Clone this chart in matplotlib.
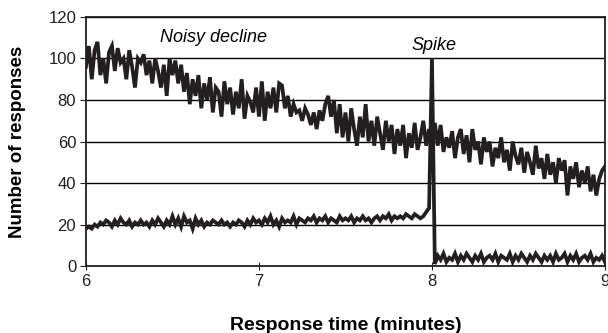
import numpy as np
import matplotlib.pyplot as plt

# samples taken once a second, times in minutes
start_min = 6.0
step_min = 1 / 60

decline = [
    96, 106, 90, 104, 108, 92, 100, 88, 103, 106,
    94, 105, 98, 100, 90, 104, 96, 86, 100, 98,
    102, 92, 99, 88, 100, 94, 86, 97, 82, 100,
    92, 99, 88, 97, 84, 93, 78, 90, 82, 92,
    76, 88, 80, 91, 74, 86, 84, 72, 89, 78,
    86, 73, 84, 76, 90, 71, 82, 79, 74, 86,
    72, 89, 70, 84, 76, 86, 74, 88, 87, 76,
    82, 72, 78, 74, 75, 70, 76, 73, 68, 74,
    66, 75, 70, 78, 82, 72, 80, 64, 78, 62,
    74, 60, 76, 66, 58, 72, 62, 78, 60, 70,
    58, 72, 64, 56, 70, 60, 68, 54, 66, 58,
    68, 52, 64, 57, 69, 56, 62, 70, 58, 66,
    56, 69, 58, 68, 55, 62, 57, 65, 52, 62,
    66, 54, 63, 50, 66, 56, 60, 49, 62, 55,
    60, 48, 57, 52, 62, 50, 56, 46, 60, 53,
    49, 57, 45, 55, 50, 44, 58, 47, 52, 42,
    54, 44, 50, 40, 52, 46, 51, 34, 48, 42,
    50, 38, 46, 40, 48, 36, 44, 34, 42, 46,
    48,
]

spike = [
    18, 19, 18, 20, 19, 21, 20, 22, 21, 19,
    22, 20, 23, 21, 20, 22, 19, 21, 20, 22,
    20, 21, 19, 22, 20, 23, 21, 19, 22, 20,
    24, 20, 23, 19, 24, 21, 22, 18, 23, 20,
    22, 19, 21, 20, 22, 21, 20, 22, 20, 21,
    19, 21, 20, 22, 21, 19, 22, 20, 23, 21,
    22, 20, 23, 21, 24, 20, 22, 19, 23, 21,
    22, 21, 24, 20, 23, 22, 21, 23, 22, 24,
    21, 23, 22, 24, 21, 23, 22, 21, 24, 22,
    23, 22, 24, 21, 23, 22, 24, 22, 23, 21,
    23, 24, 22, 24, 23, 25, 22, 24, 23, 24,
    23, 25, 24, 23, 25, 24, 23, 24, 26, 28,
    100,
    1, 5, 3, 6, 2, 4, 3, 6, 2, 5,
    3, 6, 4, 2, 5, 3, 6, 2, 4, 5,
    3, 6, 2, 5, 4, 3, 6, 2, 5, 3,
    6, 4, 2, 5, 3, 6, 4, 2, 5, 3,
    5, 2, 6, 3, 4, 6, 2, 5, 3, 6,
    2, 4, 5, 3, 6, 2, 4, 3, 5, 2,
]

times = start_min + step_min * np.arange(len(decline))

ink = "#231f20"
plt.rcParams["font.family"] = ["Liberation Sans", "DejaVu Sans"]

fig = plt.figure(figsize=(6.08, 3.33), dpi=100)
ax = fig.add_axes([0.1414, 0.201, 0.8536, 0.748])

ax.plot(times, decline, color=ink, lw=2.7, solid_joinstyle="miter")
ax.plot(times, spike, color=ink, lw=2.7, solid_joinstyle="miter")

ax.set_xlim(6, 9)
ax.set_ylim(0, 120)
ax.set_xticks([6, 7, 8, 9])
ax.set_yticks(range(0, 121, 20))
ax.yaxis.grid(True, color="black", lw=1)
ax.set_axisbelow(True)
for s in ax.spines.values():
    s.set_linewidth(1.3)
    s.set_color(ink)
ax.tick_params(axis="y", direction="out", length=4, labelsize=12, colors=ink, pad=3)
ax.tick_params(axis="x", direction="inout", length=6, labelsize=12, colors=ink, pad=3)

ax.set_xlabel("Response time (minutes)", fontsize=14, fontweight="bold", labelpad=20)
ax.set_ylabel("Number of responses", fontsize=13.5, fontweight="bold", labelpad=16)

ax.text(6.74, 110, "Noisy decline", style="italic", fontsize=13, ha="center", va="center")
ax.text(8.01, 106.5, "Spike", style="italic", fontsize=13, ha="center", va="center")

fig.savefig("out.png", dpi=100)
